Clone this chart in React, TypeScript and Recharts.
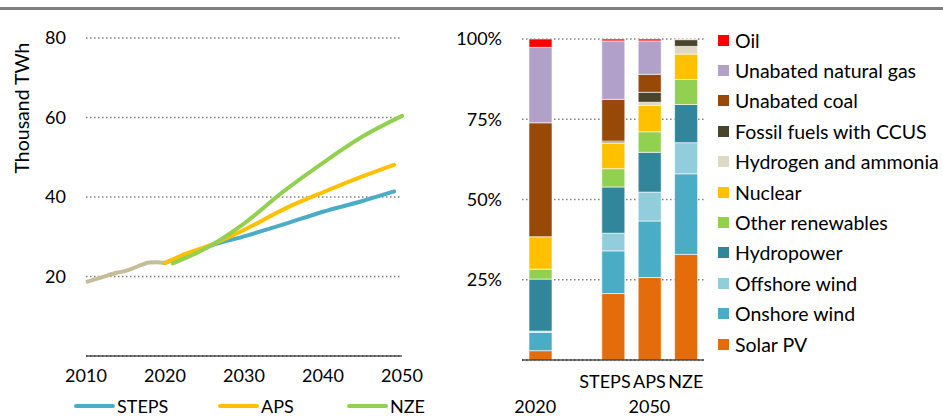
import React from 'react'
import { LineChart, Line, XAxis, YAxis, CartesianGrid, BarChart, Bar } from 'recharts'

// electricity generation, thousand TWh
const histYears = [2010, 2012, 2014, 2015, 2016, 2017, 2018, 2019, 2020]
const histValues = [18.6, 19.8, 21.0, 21.4, 22.1, 22.9, 23.5, 23.6, 23.4]

const stepsYears = [2020, 2023, 2026, 2030, 2035, 2040, 2045, 2049]
const stepsValues = [23.4, 25.6, 27.9, 30.1, 33.1, 36.3, 39.0, 41.4]

const apsYears = [2020, 2022, 2026, 2030, 2035, 2040, 2045, 2049]
const apsValues = [23.4, 25.2, 28.1, 31.7, 36.9, 41.2, 45.2, 48.1]

const nzeYears = [2021, 2025, 2030, 2035, 2040, 2045, 2050]
const nzeValues = [23.3, 26.9, 33.3, 41.4, 48.6, 55.2, 60.4]

const yearTicks = [2010, 2020, 2030, 2040, 2050]
const twhTicks = [20, 40, 60, 80]

// generation mix, % share
const barCategories = ['2020', ' ', 'STEPS', 'APS', 'NZE']
const solarPV = [2.9, null, 20.7, 25.7, 32.9]
const onshoreWind = [5.7, null, 13.3, 17.6, 25.1]
const offshoreWind = [0.4, null, 5.5, 9.0, 9.7]
const hydropower = [16.2, null, 14.4, 12.4, 11.9]
const otherRenewables = [3.1, null, 5.7, 6.4, 7.8]
const nuclear = [10.1, null, 8.0, 8.2, 7.9]
const hydrogenAmmonia = [0, null, 0.1, 1.0, 2.4]
const fossilCCUS = [0, null, 0.5, 3.1, 2.1]
const unabatedCoal = [35.5, null, 13.0, 5.6, 0]
const unabatedGas = [23.5, null, 18.2, 10.4, 0.1]
const oil = [2.6, null, 0.6, 0.6, 0.1]
const shareTicks = [25, 50, 75, 100]

const sources = [
  { key: 'solar', label: 'Solar PV', color: '#E46C0A', values: solarPV },
  { key: 'onshore', label: 'Onshore wind', color: '#4BACC6', values: onshoreWind },
  { key: 'offshore', label: 'Offshore wind', color: '#92CDDC', values: offshoreWind },
  { key: 'hydro', label: 'Hydropower', color: '#31869B', values: hydropower },
  { key: 'other', label: 'Other renewables', color: '#92D050', values: otherRenewables },
  { key: 'nuclear', label: 'Nuclear', color: '#FFC000', values: nuclear },
  { key: 'hydrogen', label: 'Hydrogen and ammonia', color: '#DDD9C4', values: hydrogenAmmonia },
  { key: 'ccus', label: 'Fossil fuels with CCUS', color: '#4A452A', values: fossilCCUS },
  { key: 'coal', label: 'Unabated coal', color: '#984807', values: unabatedCoal },
  { key: 'gas', label: 'Unabated natural gas', color: '#B1A0C7', values: unabatedGas },
  { key: 'oil', label: 'Oil', color: '#FF0000', values: oil },
]

const pairs = (xs: number[], ys: number[]) => xs.map((year, i) => ({ year, value: ys[i] }))

const barData = barCategories.map((name, i) => {
  const row: any = { name }
  sources.forEach(s => { row[s.key] = s.values[i] })
  return row
})

const FONT = 'Lato, sans-serif'
const tickStyle = { fontSize: 18, fill: '#000', fontFamily: FONT }

const lineSeries = [
  { name: 'STEPS', color: '#4BACC6' },
  { name: 'APS', color: '#FFC000' },
  { name: 'NZE', color: '#92D050' },
]

function MixTick(props: any) {
  const { x, y, payload } = props
  const v = payload.value
  if (v === '2020') {
    return <text x={x - 5} y={y} dy={53} textAnchor="middle" style={tickStyle}>2020</text>
  }
  if (v === 'STEPS' || v === 'APS' || v === 'NZE') {
    return (
      <g>
        <text x={v === 'STEPS' ? x - 8 : x} y={y} dy={28} textAnchor="middle" style={tickStyle}>{v}</text>
        {v === 'APS' && <text x={x} y={y} dy={53} textAnchor="middle" style={tickStyle}>2050</text>}
      </g>
    )
  }
  return null
}

export default function App() {
  return (
    <div style={{ position: 'absolute', left: 0, top: 0, width: 943, height: 417, background: '#fff', fontFamily: FONT, overflow: 'hidden' }}>
      <div style={{ position: 'absolute', left: 0, top: 7, width: 943, height: 3, background: '#7f7f7f' }} />

      <div style={{ position: 'absolute', left: 0, top: 0 }}>
        <LineChart width={430} height={417} margin={{ top: 38, right: 28, bottom: 0, left: 0 }}>
          <CartesianGrid vertical={false} stroke="#7f7f7f" strokeDasharray="1.5 2.5" strokeWidth={1.5} />
          <XAxis
            dataKey="year"
            type="number"
            domain={[2010, 2050]}
            ticks={yearTicks}
            allowDuplicatedCategory={false}
            tickLine={false}
            tickSize={0}
            tickMargin={13}
            axisLine={{ stroke: '#000', strokeWidth: 1.2 }}
            tick={tickStyle}
            height={61}
          />
          <YAxis
            domain={[0, 80]}
            ticks={twhTicks}
            width={86}
            tickLine={false}
            axisLine={false}
            tickSize={0}
            tickMargin={20}
            tick={tickStyle}
            label={{
              content: () => (
                <text x={21} y={108} transform="rotate(-90 21 108)" textAnchor="middle" dominantBaseline="central" style={{ ...tickStyle, fontSize: 19.5 }}>
                  Thousand TWh
                </text>
              ),
            }}
          />
          <Line data={pairs(histYears, histValues)} dataKey="value" type="monotone" stroke="#C4BD97" strokeWidth={4} dot={false} isAnimationActive={false} />
          <Line data={pairs(stepsYears, stepsValues)} dataKey="value" type="monotone" stroke="#4BACC6" strokeWidth={4} strokeLinecap="round" dot={false} isAnimationActive={false} />
          <Line data={pairs(apsYears, apsValues)} dataKey="value" type="monotone" stroke="#FFC000" strokeWidth={4} strokeLinecap="round" dot={false} isAnimationActive={false} />
          <Line data={pairs(nzeYears, nzeValues)} dataKey="value" type="monotone" stroke="#92D050" strokeWidth={4} strokeLinecap="round" dot={false} isAnimationActive={false} />
        </LineChart>
      </div>

      {/* line legend */}
      <div style={{ position: 'absolute', left: 0, top: 396, height: 20 }}>
        {lineSeries.map((s, i) => (
          <div key={s.name} style={{ position: 'absolute', left: [74, 218, 347][i], top: 0, display: 'flex', alignItems: 'center', height: 20, lineHeight: '20px', whiteSpace: 'nowrap' }}>
            <div style={{ width: 41, height: 4, borderRadius: 2, background: s.color, marginRight: 2 }} />
            <span style={{ fontSize: 18, color: '#000' }}>{s.name}</span>
          </div>
        ))}
      </div>

      <div style={{ position: 'absolute', left: 430, top: 0 }}>
        <BarChart width={280} height={417} data={barData} margin={{ top: 39, right: 6, bottom: 0, left: 0 }} barSize={23}>
          <CartesianGrid vertical={false} stroke="#7f7f7f" strokeDasharray="1.5 2.5" strokeWidth={1.5} />
          <XAxis
            dataKey="name"
            tickLine={false}
            tickSize={0}
            tickMargin={0}
            interval={0}
            axisLine={{ stroke: '#000', strokeWidth: 1.2 }}
            tick={<MixTick />}
            height={57}
          />
          <YAxis
            domain={[0, 100]}
            ticks={shareTicks}
            width={92}
            tickLine={false}
            axisLine={false}
            tickSize={0}
            tickMargin={20}
            tick={tickStyle}
            tickFormatter={(v: number) => `${v}%`}
          />
          {sources.map(s => (
            <Bar key={s.key} dataKey={s.key} stackId="mix" fill={s.color} stroke="#ffffff" strokeWidth={0.6} isAnimationActive={false} />
          ))}
        </BarChart>
      </div>

      {/* mix legend */}
      <div style={{ position: 'absolute', left: 718, top: 25 }}>
        {[...sources].reverse().map(s => (
          <div key={s.key} style={{ display: 'flex', alignItems: 'center', height: 30.4, whiteSpace: 'nowrap' }}>
            <div style={{ width: 11, height: 11, background: s.color, marginRight: 6 }} />
            <span style={{ fontSize: 19.5, color: '#000' }}>{s.label}</span>
          </div>
        ))}
      </div>
    </div>
  )
}
